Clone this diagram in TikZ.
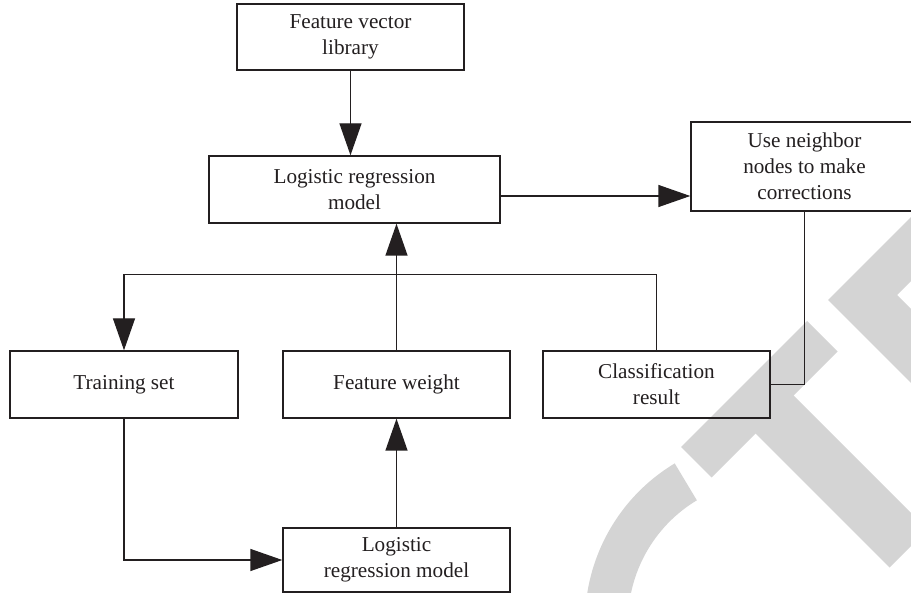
\documentclass[tikz,border=0pt]{standalone}
\usepackage{fontspec}
\setmainfont{Liberation Serif}
\usetikzlibrary{arrows.meta}
\definecolor{ink}{RGB}{35,31,32}
\definecolor{wmgray}{RGB}{212,212,212}
\tikzset{
  box/.style={draw=ink, line width=1.4pt, minimum width=227pt, minimum height=67pt,
    inner sep=0pt, align=center, text=ink, font=\fontsize{21.2}{26}\selectfont},
  arr/.style={draw=ink, line width=1.4pt, -{Triangle[length=32pt,width=22pt]}},
  link/.style={draw=ink, line width=1.4pt},
  wm/.style={fill=wmgray}
}
\begin{document}
\begin{tikzpicture}[x=1pt,y=-1pt]
\useasboundingbox (0,0) rectangle (911,593);
\clip (0,0) rectangle (911,593);
\fill[white] (0,0) rectangle (911,593);
% watermark
\fill[wm] (681,447) -- (711.5,477.5) -- (837.5,351.5) -- (807,321) -- cycle;
\fill[wm] (751,429) -- (789,391) -- (927.5,529.5) -- (889.5,567.5) -- cycle;
\fill[wm] (828,300) -- (1000,128) -- (1064,128) -- (897,295) -- (1000,398) -- (1000,472) -- cycle;
\fill[wm, shift={(770,622)}] (239:185) arc[start angle=239,end angle=170,radius=185]
  -- (170:142) arc[start angle=170,end angle=239,radius=142] -- cycle;
% nodes
\node[box, minimum height=66pt] (fvl) at (350.5,37) {Feature vector\\library};
\node[box, minimum width=291pt] (lrm1) at (354.5,189.5) {Logistic regression\\model};
\node[box, minimum height=89pt] (unn) at (804.5,166.5) {Use neighbor\\nodes to make\\corrections};
\node[box, minimum width=228pt] (ts) at (124,384.5) {Training set};
\node[box] (fw) at (396.5,384.5) {Feature weight};
\node[box] (cr) at (656.5,384.5) {Classification\\result};
\node[box, minimum height=64pt] (lrm2) at (396.5,560) {Logistic\\regression model};
% helper coordinates
\coordinate (ya) at (0,196);
\coordinate (hy) at (0,274.5);
% connectors
\draw[arr] (fvl.south) -- (fvl.south |- lrm1.north);
\draw[arr] (lrm1.east |- ya) -- (unn.west |- ya);
\draw[arr] (fw.north) -- (fw.north |- lrm1.south);
\draw[arr] (cr.north) -- (cr.north |- hy) -- (ts.north |- hy) -- (ts.north);
\draw[link] (unn.south) |- (cr.east);
\draw[arr] (ts.south) |- (lrm2.west);
\draw[arr] (lrm2.north) -- (fw.south);
\end{tikzpicture}
\end{document}
